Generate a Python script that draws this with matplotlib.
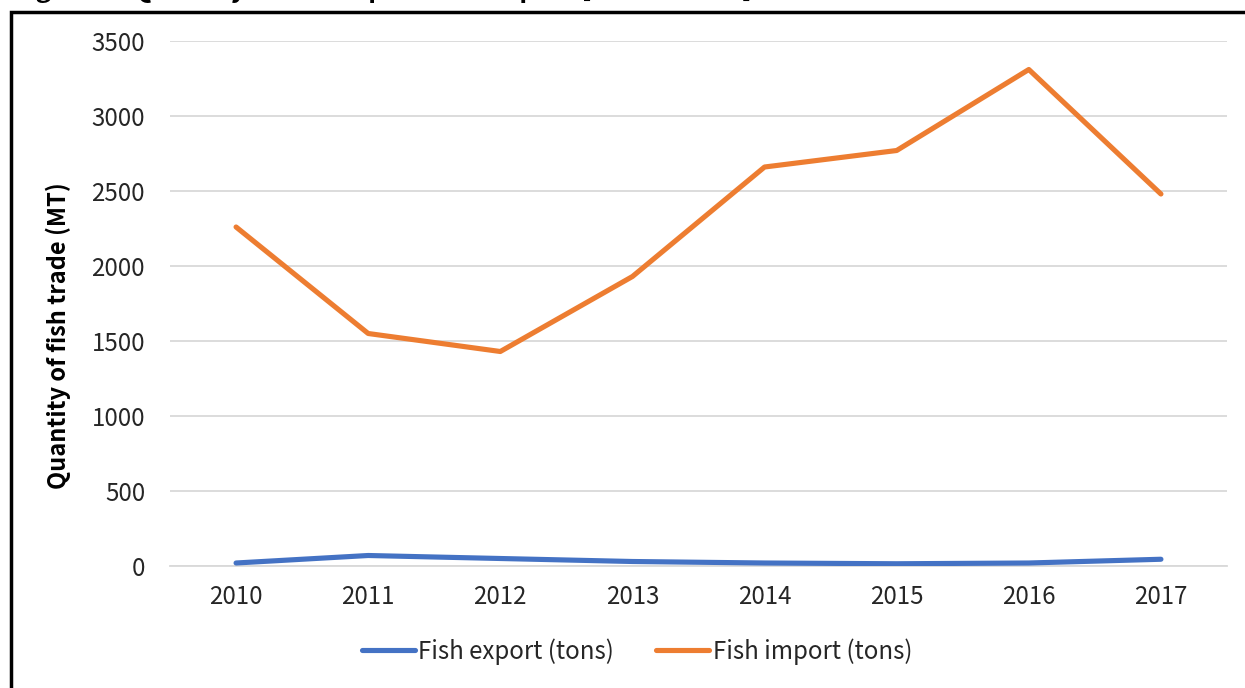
import matplotlib
matplotlib.use("Agg")
import matplotlib.pyplot as plt
from matplotlib.patches import Rectangle

years = ["2010", "2011", "2012", "2013", "2014", "2015", "2016", "2017"]
fish_export = [20, 70, 50, 30, 20, 15, 20, 45]
fish_import = [2260, 1550, 1430, 1930, 2660, 2770, 3310, 2480]
y_ticks = [0, 500, 1000, 1500, 2000, 2500, 3000, 3500]

plt.rcParams['font.family'] = ['Noto Sans CJK JP', 'DejaVu Sans']

fig = plt.figure(figsize=(12.45, 6.88), dpi=100)
ax = fig.add_axes([170 / 1245, 122 / 688, 1057 / 1245, 525 / 688])

x = list(range(len(years)))
ax.plot(x, fish_export, color="#4472C4", lw=3.7, solid_capstyle="round",
        solid_joinstyle="round", label="Fish export (tons)", zorder=3)
ax.plot(x, fish_import, color="#ED7D31", lw=3.7, solid_capstyle="round",
        solid_joinstyle="round", label="Fish import (tons)", zorder=3)

ax.set_xlim(-0.5, len(years) - 0.5)
ax.set_ylim(0, 3500)
ax.set_xticks(x)
ax.set_xticklabels(years)
ax.set_yticks(y_ticks)
ax.yaxis.grid(True, color="#d9d9d9", lw=1.3)
ax.set_axisbelow(True)
for s in ["top", "right", "left"]:
    ax.spines[s].set_visible(False)
ax.spines["bottom"].set_color("#d9d9d9")
ax.spines["bottom"].set_linewidth(1.3)
ax.tick_params(axis="both", length=0, labelsize=17.3, colors="#262626")
ax.tick_params(axis="x", pad=13)
ax.tick_params(axis="y", pad=18)

fig.text(58 / 1245, (688 - 336) / 688, "Quantity of fish trade (MT)", fontsize=17,
         fontweight="bold", color="black", rotation=90, ha="center", va="center")

ax.legend(loc="center", bbox_to_anchor=((637 - 170) / 1057, -0.163), ncol=2,
          frameon=False, fontsize=17.3, handlelength=2.2, handletextpad=0.15,
          columnspacing=1.75, labelcolor="#262626")

# outer frame of the pasted figure
fig.patches.append(Rectangle((11 / 1245, -0.1), 2.0, 1.1 - 12 / 688,
                             transform=fig.transFigure, fill=False,
                             edgecolor="black", lw=2.5))

# caption cut off at the top
fig.text(12 / 1245, 1 + 3 / 688, "Figure 3: Quantity of fish export and import [2010 \u2013 2017]",
         fontsize=19, fontweight="bold", ha="left", va="baseline")

fig.savefig("out.png", dpi=100)
